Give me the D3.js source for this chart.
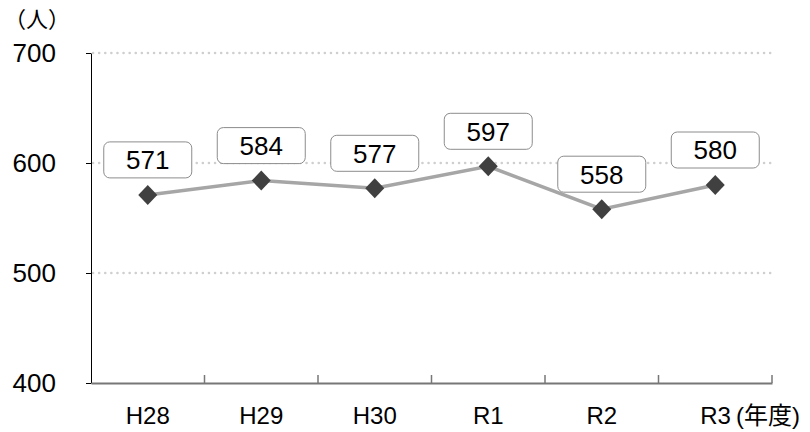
<!DOCTYPE html>
<html>
<head>
<meta charset="utf-8">
<script src="https://cdn.jsdelivr.net/npm/d3@7"></script>
<style>
	body { margin: 0; background: #fff; }
	text { font-family: "Liberation Sans", Arial, "Noto Sans CJK JP", sans-serif; fill: #000; }
</style>
</head>
<body>
<div id="chart"></div>
<script>
var years = ["H28", "H29", "H30", "R1", "R2", "R3"];
var people = [571, 584, 577, 597, 558, 580];
var yTicks = [400, 500, 600, 700];

var width = 810,
	height = 432;
var plotLeft = 91, plotRight = 772, plotTop = 53, plotBottom = 383;

var svg = d3.select("#chart")
	.append("svg")
	.attr("width", width)
	.attr("height", height);

var x = d3.scaleBand().domain(years).range([plotLeft, plotRight]);
var y = d3.scaleLinear().domain([400, 700]).range([plotBottom, plotTop]);

// dotted grid lines
svg.selectAll(".grid")
	.data(yTicks.slice(1))
	.enter()
	.append("line")
	.attr("x1", plotLeft + 2)
	.attr("x2", plotRight)
	.attr("y1", function (d) { return y(d); })
	.attr("y2", function (d) { return y(d); })
	.attr("stroke", "#cfcfcf")
	.attr("stroke-width", 2.5)
	.attr("stroke-linecap", "round")
	.attr("stroke-dasharray", "0.1,6");

// y axis
var yAxis = svg.append("g")
	.attr("transform", "translate(" + plotLeft + ",0)")
	.call(d3.axisLeft(y).tickValues(yTicks).tickSize(5).tickPadding(30).tickSizeOuter(0));
yAxis.attr("font-family", null).attr("font-size", null);
yAxis.select(".domain").attr("stroke", "#000").attr("stroke-width", 1);
yAxis.selectAll(".tick line").attr("stroke", "#000");
yAxis.selectAll("text").attr("font-size", 26);

// x axis
var xAxis = svg.append("g")
	.attr("transform", "translate(0," + plotBottom + ")")
	.call(d3.axisBottom(x).tickSize(0).tickPadding(24));
xAxis.attr("font-family", null).attr("font-size", null);
xAxis.select(".domain").attr("stroke", "#777").attr("stroke-width", 2);
xAxis.selectAll("text").attr("font-size", 24);
var r3 = xAxis.selectAll("text").filter(function (d) { return d === "R3"; })
	.attr("text-anchor", "start")
	.attr("x", -15);
r3.append("tspan")
	.attr("dx", 5)
	.text("(年度)");

// boundary ticks on the x axis
svg.selectAll(".xtick")
	.data(years.slice(1).map(function (d) { return x(d); }).concat([plotRight]))
	.enter()
	.append("line")
	.attr("x1", function (d) { return d; })
	.attr("x2", function (d) { return d; })
	.attr("y1", plotBottom)
	.attr("y2", plotBottom - 8)
	.attr("stroke", "#777")
	.attr("stroke-width", 1.5);

svg.append("text")
	.attr("x", 4)
	.attr("y", 27)
	.attr("font-size", 22)
	.text("（人）");

var cx = function (d, i) { return x(years[i]) + x.bandwidth() / 2; };

// line
var line = d3.line()
	.x(function (d, i) { return cx(d, i); })
	.y(function (d) { return y(d); });

svg.append("path")
	.datum(people)
	.attr("d", line)
	.attr("fill", "none")
	.attr("stroke", "#a6a6a6")
	.attr("stroke-width", 3.5);

// diamond markers
svg.selectAll(".pt")
	.data(people)
	.enter()
	.append("path")
	.attr("d", "M0,-10L9.5,0L0,10L-9.5,0Z")
	.attr("transform", function (d, i) { return "translate(" + cx(d, i) + "," + y(d) + ")"; })
	.attr("fill", "#404040");

// value labels in rounded boxes
var labels = svg.selectAll(".lbl")
	.data(people)
	.enter()
	.append("g")
	.attr("transform", function (d, i) { return "translate(" + cx(d, i) + "," + (y(d) - 35) + ")"; });

labels.append("rect")
	.attr("x", -44)
	.attr("y", -18)
	.attr("width", 88)
	.attr("height", 36)
	.attr("rx", 6)
	.attr("fill", "#fff")
	.attr("stroke", "#8c8c8c")
	.attr("stroke-width", 1);

labels.append("text")
	.attr("text-anchor", "middle")
	.attr("dy", "0.36em")
	.attr("font-size", 26)
	.text(function (d) { return d; });
</script>
</body>
</html>
